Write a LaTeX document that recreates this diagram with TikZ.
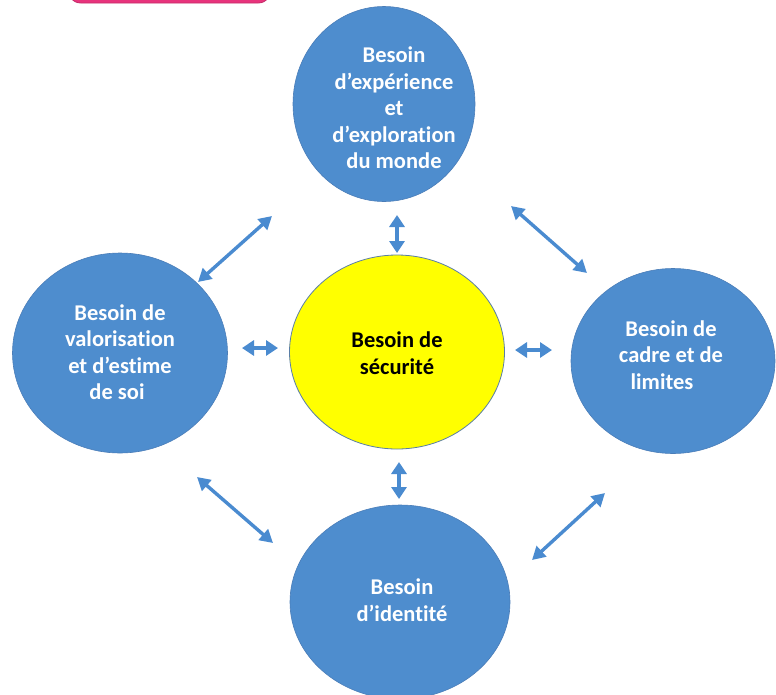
\documentclass[tikz,border=0pt]{standalone}
\usepackage{fontspec}
\setmainfont{Carlito}[Ligatures={NoCommon}]
\usetikzlibrary{shapes.geometric,arrows.meta}
\definecolor{needblue}{HTML}{4E8DCE}
\definecolor{neededge}{HTML}{4A7DB8}
\definecolor{arrowblue}{HTML}{4A8BD0}
\definecolor{tabpink}{HTML}{E8337C}
\definecolor{secyellow}{HTML}{FFFF00}
\begin{document}
\begin{tikzpicture}[x=1pt,y=-1pt,
  need/.style={ellipse, draw=neededge, line width=0.6pt, fill=needblue, inner sep=0pt},
  secu/.style={ellipse, draw=neededge!70!gray, line width=0.8pt, fill=secyellow, inner sep=0pt},
  lbl/.style={align=center, font=\fontsize{22.5}{26.5}\selectfont\bfseries, text=white, inner sep=0pt},
  biarrow/.style={draw=arrowblue, line width=3.4pt, {Triangle[length=13pt,width=14pt]}-{Triangle[length=13pt,width=14pt]}},
  shortarrow/.style={draw=arrowblue, line width=4.5pt, {Triangle[length=12pt,width=15pt]}-{Triangle[length=12pt,width=15pt]}}]
\path[fill=white] (0,0) rectangle (776,694);
\useasboundingbox (0,0) rectangle (776,694);
\clip (0,0) rectangle (776,694);
% pink tab at the top
\draw[fill=tabpink, draw=tabpink!85!black, line width=0.8pt, rounded corners=14pt] (67,-40) rectangle (272,3);
% circles
\node[need, minimum width=182pt, minimum height=195pt] (top) at (384,104) {};
\node[need, minimum width=215pt, minimum height=200pt] (left) at (120,353) {};
\node[secu, minimum width=215pt, minimum height=194pt] (center) at (397,352) {};
\node[need, minimum width=204pt, minimum height=185pt] (right) at (673,361) {};
\node[need, minimum width=220pt, minimum height=194pt] (bottom) at (400,602) {};
% arrow end points
\coordinate (tlA) at (272,216); \coordinate (tlB) at (198,282);
\coordinate (trA) at (511,206); \coordinate (trB) at (587,273);
\coordinate (blA) at (197,477); \coordinate (blB) at (273,543);
\coordinate (brA) at (605,493); \coordinate (brB) at (532,560);
\coordinate (vtA) at (397,215); \coordinate (vtB) at (397,253);
\coordinate (vbA) at (399,462); \coordinate (vbB) at (399,499);
\coordinate (hlA) at (242,348); \coordinate (hlB) at (278,348);
\coordinate (hrA) at (515,350); \coordinate (hrB) at (552,350);
% arrows
\draw[biarrow] (tlA) -- (tlB);
\draw[biarrow] (trA) -- (trB);
\draw[biarrow] (blA) -- (blB);
\draw[biarrow] (brA) -- (brB);
\draw[shortarrow] (vtA) -- (vtB);
\draw[shortarrow] (vbA) -- (vbB);
\draw[shortarrow] (hlA) -- (hlB);
\draw[shortarrow] (hrA) -- (hrB);
% labels
\node[lbl] (topL) at (394,108) {Besoin\\d’expérience\\et\\d’exploration\\du monde};
\node[lbl] (leftL) at (120,352) {Besoin de\\valorisation\\et d’estime\\de soi\hspace*{6pt}};
\node[lbl, text=black] (centerL) at (397,353) {Besoin de\\sécurité};
\node[lbl] (rightL) at (671,355) {Besoin de\\cadre et de\\limites\hspace*{18pt}};
\node[lbl] (bottomL) at (402,600) {Besoin\\d’identité};
\end{tikzpicture}
\end{document}
